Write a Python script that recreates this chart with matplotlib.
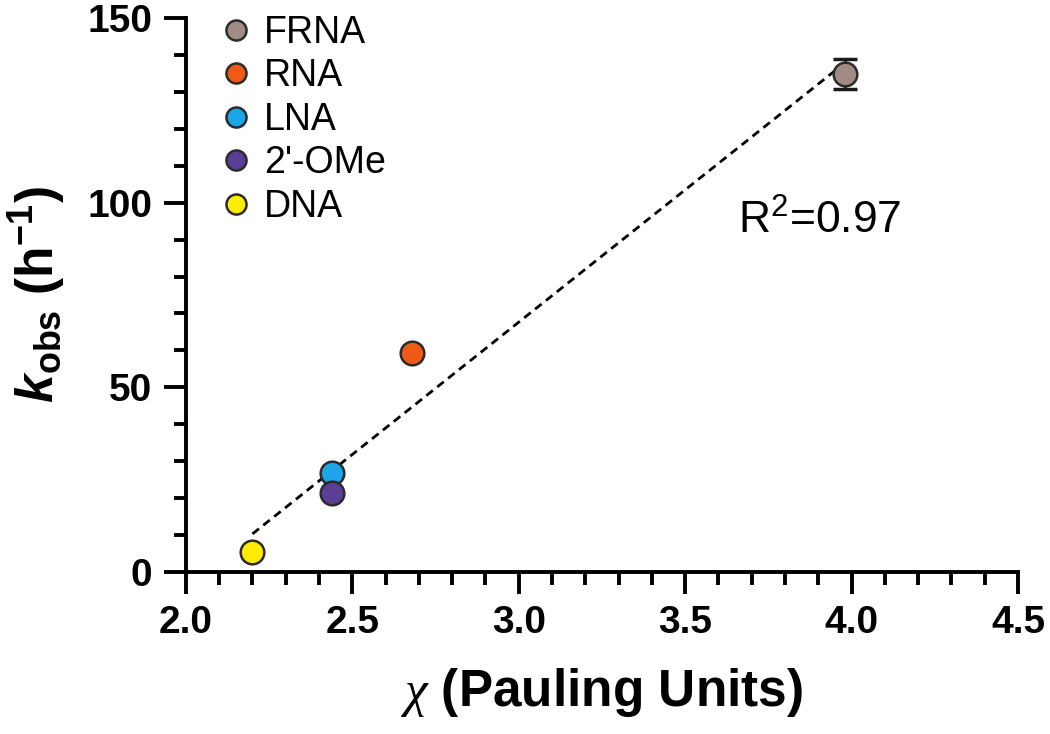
import numpy as np
import matplotlib
matplotlib.use("Agg")
import matplotlib.pyplot as plt
from matplotlib.ticker import MultipleLocator

plt.rcParams['font.family'] = ['Liberation Sans', 'DejaVu Sans']
plt.rcParams['mathtext.fontset'] = 'custom'
plt.rcParams['mathtext.rm'] = 'Liberation Sans'
plt.rcParams['mathtext.it'] = 'Liberation Sans:italic'
plt.rcParams['mathtext.bf'] = 'Liberation Sans:bold'
plt.rcParams['mathtext.bfit'] = 'Liberation Sans:bold:italic'
plt.rcParams['mathtext.sf'] = 'Liberation Serif:italic'

# Data
labels = ["FRNA", "RNA", "LNA", "2'-OMe", "DNA"]
chi = [3.98, 2.68, 2.44, 2.44, 2.20]
kobs = [134.8, 59.4, 26.9, 21.4, 5.4]
kerr = [4.0, 0, 0, 0, 0]
colors = ["#a08c84", "#ef5a17", "#1ca6e8", "#5b3f97", "#ffec00"]
r2_text = "R$^2$=0.97"

fig = plt.figure(figsize=(10.5, 7.34), dpi=100)
ax = fig.add_axes([0.177, 0.2207, 0.7925, 0.7548])

# Linear fit
slope, intercept = np.polyfit(chi, kobs, 1)
xf = np.array([min(chi), max(chi)])
ax.plot(xf, slope * xf + intercept, ls=(0, (3, 2)), color='black', lw=2.0, zorder=2)

for lab, x, y, e, c in zip(labels, chi, kobs, kerr, colors):
    if e > 0:
        ax.errorbar(x, y, yerr=e, fmt='none', ecolor='#1a1a1a', elinewidth=2.0,
                    capsize=8.5, capthick=2.5, zorder=3)
    ax.plot(x, y, 'o', ms=17, mfc=c, mec='#2b2b2b', mew=1.8, ls='none',
            label=lab, zorder=4)

ax.text(3.66, 95, r2_text, fontsize=32, ha='left', va='center')

ax.set_xlim(2.0, 4.5)
ax.set_ylim(0, 150)
ax.xaxis.set_major_locator(MultipleLocator(0.5))
ax.xaxis.set_minor_locator(MultipleLocator(0.1))
ax.yaxis.set_major_locator(MultipleLocator(50))
ax.yaxis.set_minor_locator(MultipleLocator(10))
ax.xaxis.set_major_formatter(matplotlib.ticker.FormatStrFormatter('%.1f'))

for s in ['top', 'right']:
    ax.spines[s].set_visible(False)
for s in ['left', 'bottom']:
    ax.spines[s].set_linewidth(2.8)
ax.tick_params(which='major', length=16, width=2.8, direction='out', labelsize=28, pad=8)
ax.tick_params(which='minor', length=9, width=2.8, direction='out')
for t in ax.get_xticklabels() + ax.get_yticklabels():
    t.set_fontweight('bold')

ax.set_xlabel(r'$\mathsf{\chi}$ (Pauling Units)', fontsize=37, fontweight='bold', labelpad=18)
ax.set_ylabel(r'$\mathbfit{k}_{\mathbf{obs}}$ (h$^{\mathbf{-1}}$)', fontsize=37, fontweight='bold', labelpad=14)

leg = ax.legend(loc='upper left', bbox_to_anchor=(0.02, 1.033), frameon=False,
                fontsize=27, handletextpad=0.25, labelspacing=0.2, borderaxespad=0,
                handlelength=1.0, markerscale=0.85)

fig.savefig('out.png', dpi=100)
